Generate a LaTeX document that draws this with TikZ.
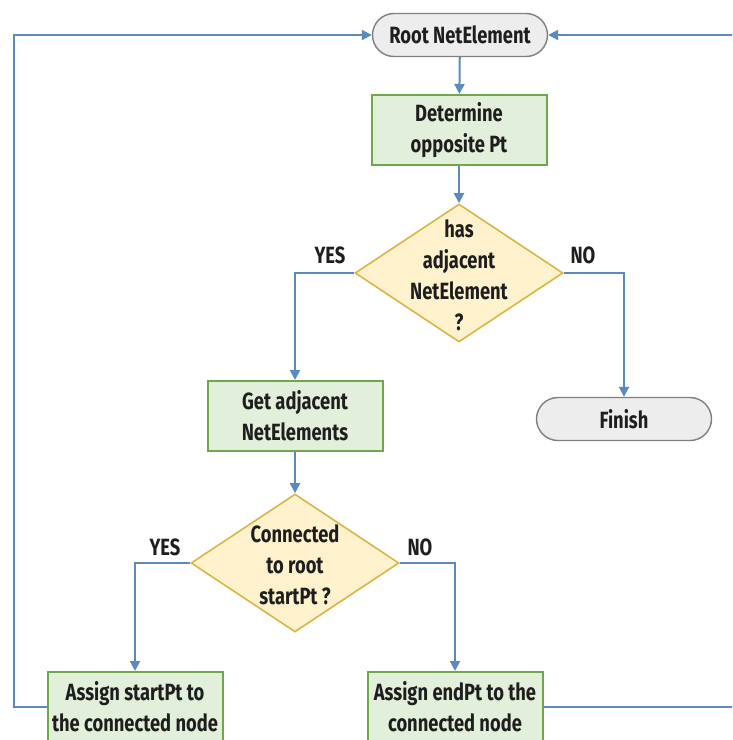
\documentclass[tikz,border=0pt]{standalone}
\usepackage{fontspec}
\setmainfont{Fira Sans}[FakeStretch=0.78]
\usetikzlibrary{arrows.meta,shapes.geometric}

\definecolor{flowline}{HTML}{5A8AC2}
\definecolor{procfill}{HTML}{E2EFDA}
\definecolor{procdraw}{HTML}{6FA74A}
\definecolor{decfill}{HTML}{FFF2CC}
\definecolor{decdraw}{HTML}{DDB443}
\definecolor{termfill}{HTML}{EDEDED}
\definecolor{termdraw}{HTML}{7F7F7F}
\definecolor{ink}{HTML}{1E1E1E}

\tikzset{
  txt/.style={font=\bfseries\fontsize{23.5}{31}\selectfont, text=ink, align=center},
  process/.style={txt, draw=procdraw, fill=procfill, line width=2pt,
    minimum width=175pt, minimum height=70pt, inner sep=0pt},
  terminal/.style={txt, draw=termdraw, fill=termfill, line width=1.4pt,
    minimum width=175pt, minimum height=43pt, rounded corners=21.5pt, inner sep=0pt},
  decision/.style={diamond, draw=decdraw, fill=decfill, line width=1.6pt,
    minimum width=208pt, minimum height=138pt, inner sep=0pt},
  flow/.style={draw=flowline, line width=2pt,
    -{Triangle[length=10pt,width=10pt]}},
  plain/.style={draw=flowline, line width=2pt},
  answer/.style={txt, inner sep=0pt}
}

\begin{document}
\begin{tikzpicture}[x=1pt,y=-1pt]
  \clip (0,0) rectangle (732,740);

  % terminals
  \node[terminal] (root) at (460,35) {Root NetElement};
  \node[terminal] (finish) at (624,419) {Finish};

  % processes
  \node[process] (opp) at (459,130) {Determine\\opposite Pt};
  \node[process] (getadj) at (295,416) {Get adjacent\\NetElements};
  \node[process] (assignstart) at (135,707) {Assign startPt to\\the connected node};
  \node[process] (assignend) at (455,707) {Assign endPt to the\\connected node};

  % decisions
  \node[decision] (hasadj) at (459,273) {};
  \node[txt, inner sep=0pt] (hasadjtxt) at (459,275) {has\\adjacent\\NetElement\\?};
  \node[decision] (conn) at (295,563) {};
  \node[txt, inner sep=0pt] (conntxt) at (295,565) {Connected\\to root\\startPt ?};

  % branch labels
  \node[answer] (yes1) at (330,255) {YES};
  \node[answer] (no1) at (583,255) {NO};
  \node[answer] (yes2) at (165,547) {YES};
  \node[answer] (no2) at (420,547) {NO};

  % free ends of the return loops
  \coordinate (leftA) at (14,707);
  \coordinate (leftB) at (14,35);
  \coordinate (rightA) at (745,707);
  \coordinate (rightB) at (745,35);

  % main flow
  \draw[flow] (root) -- (opp);
  \draw[flow] (opp) -- (hasadj);
  \draw[flow] (hasadj.west) -| (getadj.north);
  \draw[flow] (hasadj.east) -| (finish.north);
  \draw[flow] (getadj) -- (conn);
  \draw[flow] (conn.west) -| (assignstart.north);
  \draw[flow] (conn.east) -| (assignend.north);

  % return loops
  \draw[flow] (assignstart.west) -- (leftA) -- (leftB) -- (root.west);
  \draw[plain] (assignend.east) -- (rightA);
  \draw[flow] (rightB) -- (root.east);
\end{tikzpicture}
\end{document}
